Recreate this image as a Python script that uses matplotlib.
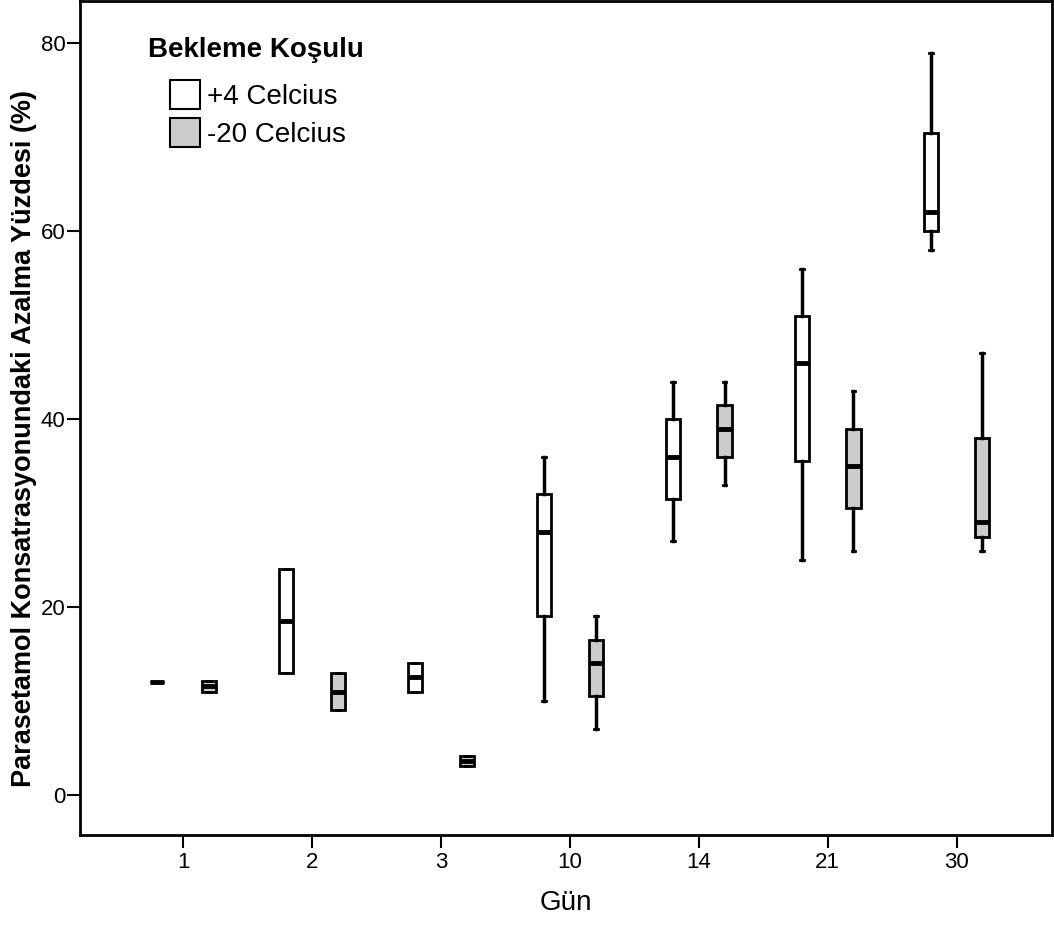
import numpy as np
import matplotlib
matplotlib.use('Agg')
from matplotlib import pyplot as plt
from matplotlib.patches import Patch

plt.rcParams['font.family'] = ['Liberation Sans', 'DejaVu Sans']

days = ['1', '2', '3', '10', '14', '21', '30']

# +4 Celcius: whisker low, q1, median, q3, whisker high
p4_lo  = [12.0, 13.0, 11.0, 10.0, 27.0, 25.0, 58.0]
p4_q1  = [12.0, 13.0, 11.0, 19.0, 31.5, 35.5, 60.0]
p4_med = [12.0, 18.5, 12.6, 28.0, 36.0, 46.0, 62.0]
p4_q3  = [12.0, 24.0, 14.0, 32.0, 40.0, 51.0, 70.5]
p4_hi  = [12.0, 24.0, 14.0, 36.0, 44.0, 56.0, 79.0]

# -20 Celcius
m20_lo  = [11.0, 9.0, 3.1, 7.0, 33.0, 26.0, 26.0]
m20_q1  = [11.0, 9.0, 3.1, 10.5, 36.0, 30.5, 27.5]
m20_med = [11.6, 11.0, 3.6, 14.0, 39.0, 35.0, 29.0]
m20_q3  = [12.1, 13.0, 4.1, 16.5, 41.5, 39.0, 38.0]
m20_hi  = [12.1, 13.0, 4.1, 19.0, 44.0, 43.0, 47.0]

yticks = [0, 20, 40, 60, 80]

def stats(lo, q1, med, q3, hi):
    return [dict(whislo=a, q1=b, med=c, q3=d, whishi=e, fliers=[])
            for a, b, c, d, e in zip(lo, q1, med, q3, hi)]

fig = plt.figure(figsize=(10.54, 9.35), dpi=100)
ax = fig.add_axes([80/1054, 1-835/935, 972/1054, 834/935])

x = np.arange(len(days))
common = dict(widths=0.11, capwidths=0.03, showfliers=False, patch_artist=True,
              whiskerprops=dict(color='black', lw=2.5),
              capprops=dict(color='black', lw=2),
              medianprops=dict(color='black', lw=3.5, solid_capstyle='butt'))

ax.bxp(stats(p4_lo, p4_q1, p4_med, p4_q3, p4_hi), positions=x-0.2,
       boxprops=dict(facecolor='white', edgecolor='black', lw=2), **common)
ax.bxp(stats(m20_lo, m20_q1, m20_med, m20_q3, m20_hi), positions=x+0.2,
       boxprops=dict(facecolor='#cccccc', edgecolor='black', lw=2), **common)

ax.set_xlim(-0.8, 6.74)
ax.set_ylim(-4.26, 84.5)
ax.set_xticks(x)
ax.set_xticklabels(days)
ax.set_yticks(yticks)
ax.tick_params(axis='both', length=9.5, width=1.5, labelsize=16, pad=3)
ax.tick_params(axis='y', pad=1)
for s in ax.spines.values():
    s.set_linewidth(2)

ax.set_xlabel('Gün', fontsize=20, labelpad=12)
ax.set_ylabel('Parasetamol Konsatrasyonundaki Azalma Yüzdesi (%)',
              fontsize=19.5, fontweight='bold')
ax.yaxis.set_label_coords(-0.044, 0.475)

handles = [Patch(facecolor='white', edgecolor='black', lw=1.5, label='+4 Celcius'),
           Patch(facecolor='#cccccc', edgecolor='black', lw=1.5, label='-20 Celcius')]
ax.legend(handles=handles, loc='upper left', bbox_to_anchor=(0.0926, 0.905),
          frameon=False, fontsize=20, borderpad=0, borderaxespad=0,
          handlelength=1.08, handleheight=1.2, handletextpad=0.25,
          labelspacing=0.3)
ax.text(0.07, 0.941, 'Bekleme Koşulu', transform=ax.transAxes,
        fontsize=20, fontweight='bold', va='center', ha='left')

fig.savefig('out.png', dpi=100)
